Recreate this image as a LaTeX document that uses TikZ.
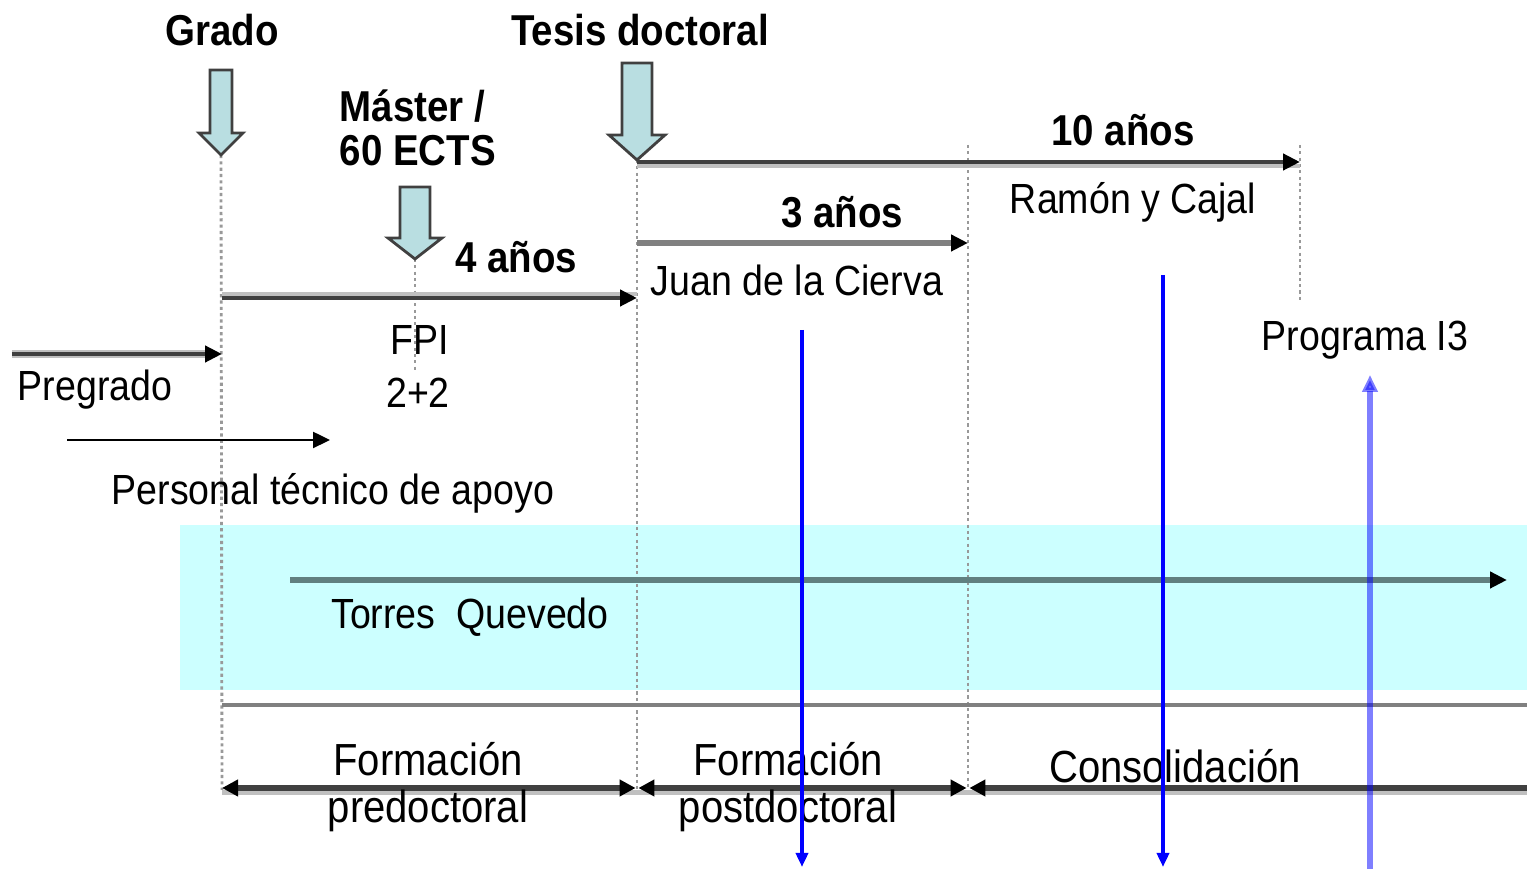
\documentclass[tikz,border=0pt]{standalone}
\usepackage{fontspec}
\setmainfont[FakeStretch=0.89]{Liberation Sans}
\usetikzlibrary{arrows.meta}
\definecolor{bandcyan}{HTML}{CCFFFF}
\definecolor{boxfill}{HTML}{B9DEE1}
\definecolor{darkline}{HTML}{404040}
\definecolor{midline}{HTML}{808080}
\definecolor{shadowline}{HTML}{C0C0C0}
\definecolor{torresline}{HTML}{608080}
\newcommand{\downblock}[6]{\draw[blockarrow] (#1-#5,#2) -- (#1+#5,#2) -- (#1+#5,#3) -- (#1+#6,#3) -- (#1,#4) -- (#1-#6,#3) -- (#1-#5,#3) -- cycle;}

\begin{document}
\begin{tikzpicture}[x=0.1mm,y=-0.1mm,
    every node/.style={inner sep=0pt},
    plainlabel/.style={font=\fontsize{12}{13}\selectfont},
    boldlabel/.style={font=\fontsize{12.3}{12.5}\selectfont\bfseries},
    phaselabel/.style={font=\fontsize{12.8}{13.2}\selectfont, align=center},
    blockarrow/.style={fill=boxfill, draw=darkline, line width=0.8pt},
    guide/.style={draw=midline!80, line width=0.8pt, dash pattern=on 0.9pt off 0.9pt},
    yeartip/.style={-{Triangle[length=1.7mm,width=1.6mm,color=black]}},
    yearline/.style={yeartip, draw=darkline, line width=1.2pt},
    shadowed/.style={draw=shadowline, line width=1.2pt},
    phaseline/.style={draw=darkline, line width=1.5pt},
    bluearrow/.style={draw=blue, line width=1pt, -{Triangle[length=1.4mm,width=1.2mm]}}]
    \useasboundingbox (0,0) rectangle (1527,869);
    \fill [bandcyan] (180,525) rectangle (1527,690);
    \coordinate (gradotip) at (221,155);
    \coordinate (gradoend) at (222,790);
    \coordinate (tesistip) at (637,160);
    \coordinate (tesisend) at (637,790);
    \coordinate (mastertip) at (415,259);
    \coordinate (masterend) at (415,370);
    \coordinate (jdlcend) at (968,145);
    \coordinate (jdlcbot) at (968,790);
    \coordinate (rycend) at (1300,145);
    \coordinate (rycbot) at (1300,300);
    \draw [guide] (gradotip) -- (gradoend);
    \draw [guide] (tesistip) -- (tesisend);
    \draw [guide] (mastertip) -- (masterend);
    \draw [guide] (jdlcend) -- (jdlcbot);
    \draw [guide] (rycend) -- (rycbot);
    \downblock{221}{70}{133}{155}{11}{22}
    \downblock{637}{63}{135}{160}{15}{28}
    \downblock{415}{187}{238}{259}{15}{27}
    \node [boldlabel] (grado) at (222,30) {Grado};
    \node [boldlabel] (tesis) at (640,30) {Tesis doctoral};
    \node [boldlabel, align=left, anchor=west] (master) at (339,128) {Máster /\\60 ECTS};
    \coordinate (diezA) at (637,162);
    \coordinate (diezB) at (1300,162);
    \draw [shadowed] ([yshift=-1.1pt]diezA) -- ([yshift=-1.1pt]diezB);
    \draw [yearline] (diezA) -- (diezB);
    \node [boldlabel] (diez) at (1123,130) {10 años};
    \node [plainlabel] (ryc) at (1133,202) {Ramón y Cajal};
    \coordinate (tresA) at (637,243);
    \coordinate (tresB) at (968,243);
    \draw [yeartip, draw=midline, line width=1.6pt] (tresA) -- (tresB);
    \node [boldlabel] (tres) at (842,212) {3 años};
    \node [plainlabel] (jdlc) at (797,280) {Juan de la Cierva};
    \coordinate (cuatroA) at (222,298);
    \coordinate (cuatroB) at (637,298);
    \draw [shadowed] ([yshift=1.1pt]cuatroA) -- ([yshift=1.1pt]cuatroB);
    \draw [yearline] (cuatroA) -- (cuatroB);
    \node [boldlabel] (cuatro) at (516,257) {4 años};
    \node [plainlabel] (fpi) at (420,340) {FPI};
    \node [plainlabel] (dosdos) at (418,393) {2+2};
    \coordinate (pregradoA) at (12,354);
    \coordinate (pregradoB) at (222,354);
    \draw [shadowed, line width=2.4pt] (pregradoA) -- ([xshift=-2pt]pregradoB);
    \draw [yearline] (pregradoA) -- (pregradoB);
    \node [plainlabel] (pregrado) at (95,390) {Pregrado};
    \coordinate (personalA) at (67,440);
    \coordinate (personalB) at (330,440);
    \draw [yeartip, draw=black, line width=0.7pt] (personalA) -- (personalB);
    \node [plainlabel] (personal) at (333,493) {Personal técnico de apoyo};
    \coordinate (torresA) at (290,580);
    \coordinate (torresB) at (1507,580);
    \draw [yeartip, draw=torresline, line width=1.8pt] (torresA) -- (torresB);
    \node [plainlabel] (torres) at (470,617) {Torres\ \ Quevedo};
    \node [plainlabel] (programa) at (1365,340) {Programa I3};
    \coordinate (sepA) at (222,705);
    \coordinate (sepB) at (1527,705);
    \draw [midline, line width=0.9pt] (sepA) -- (sepB);
    \coordinate (phaseA) at (222,788);
    \coordinate (phaseB) at (637,788);
    \coordinate (phaseC) at (968,788);
    \coordinate (phaseD) at (1527,788);
    \draw [shadowed, line width=1.4pt] ([yshift=-1.3pt]phaseA) -- ([yshift=-1.3pt]phaseD);
    \draw [phaseline, {Triangle[length=1.6mm,width=1.6mm,color=black]}-{Triangle[length=1.6mm,width=1.6mm,color=black]}] (phaseA) -- ([xshift=-0.4pt]phaseB);
    \draw [phaseline, {Triangle[length=1.6mm,width=1.6mm,color=black]}-{Triangle[length=1.6mm,width=1.6mm,color=black]}] ([xshift=0.4pt]phaseB) -- ([xshift=-0.4pt]phaseC);
    \draw [phaseline, {Triangle[length=1.6mm,width=1.6mm,color=black]}-] ([xshift=0.4pt]phaseC) -- (phaseD);
    \node [phaselabel] (predoc) at (428,787) {Formación\\predoctoral};
    \node [phaselabel] (postdoc) at (788,787) {Formación\\postdoctoral};
    \node [phaselabel] (consol) at (1175,766) {Consolidación};
    \coordinate (blueA) at (802,330);
    \coordinate (blueB) at (802,867);
    \coordinate (blueC) at (1163,275);
    \coordinate (blueD) at (1163,867);
    \coordinate (blueE) at (1370,869);
    \coordinate (blueF) at (1370,375);
    \draw [bluearrow] (blueA) -- (blueB);
    \draw [bluearrow] (blueC) -- (blueD);
    \draw [bluearrow, draw opacity=0.5, fill opacity=0.5, line width=1.8pt, -{Triangle[length=1.7mm,width=1.5mm]}] (blueE) -- (blueF);
\end{tikzpicture}
\end{document}
